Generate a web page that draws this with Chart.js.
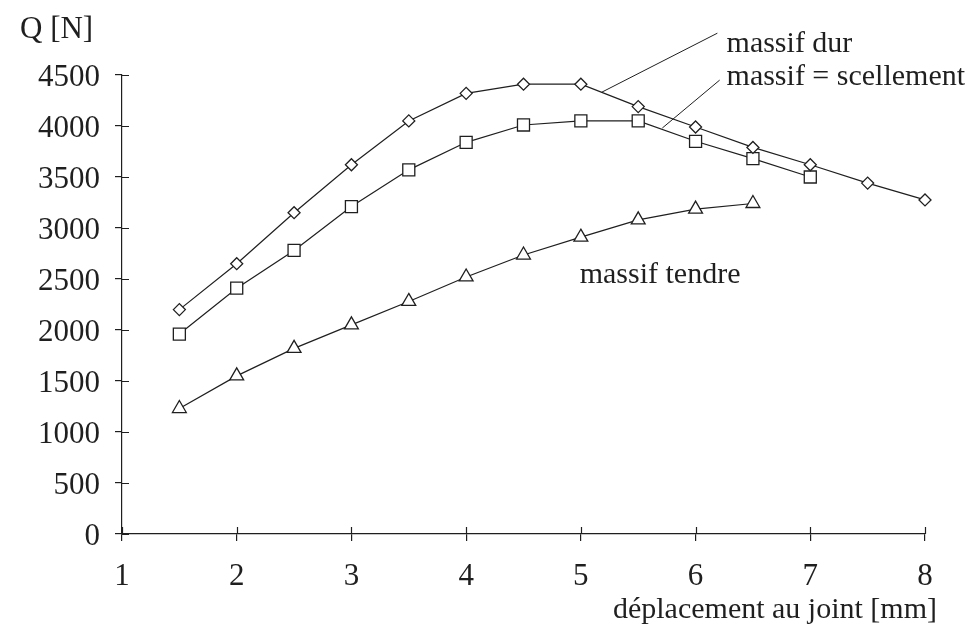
<!DOCTYPE html>
<html>
<head>
<meta charset="utf-8">
<script src="https://cdn.jsdelivr.net/npm/chart.js@4.4.1/dist/chart.umd.min.js"></script>
<style>
  html, body { margin: 0; padding: 0; background: #fff; }
  #graph { display: block; }
</style>
</head>
<body>
<canvas id="graph" width="972" height="628"></canvas>
<script>
// displacement at the joint [mm] and load Q [N]
const dispDur = [1.5, 2, 2.5, 3, 3.5, 4, 4.5, 5, 5.5, 6, 6.5, 7, 7.5, 8];
const qDur = [2200, 2650, 3150, 3620, 4050, 4320, 4410, 4410, 4190, 3990, 3790, 3620, 3440, 3275];

const dispScell = [1.5, 2, 2.5, 3, 3.5, 4, 4.5, 5, 5.5, 6, 6.5, 7];
const qScell = [1960, 2410, 2780, 3210, 3570, 3840, 4010, 4050, 4050, 3850, 3680, 3500];

const dispTendre = [1.5, 2, 2.5, 3, 3.5, 4, 4.5, 5, 5.5, 6, 6.5];
const qTendre = [1230, 1550, 1820, 2050, 2280, 2520, 2735, 2910, 3080, 3185, 3240];

const xTicks = [1, 2, 3, 4, 5, 6, 7, 8];
const yTicks = [0, 500, 1000, 1500, 2000, 2500, 3000, 3500, 4000, 4500];

const INK = "#1f1f1f";
const SERIF = "'Liberation Serif', 'DejaVu Serif', serif";

function toPoints(xs, ys) {
  return xs.map((x, i) => ({ x: x, y: ys[i] }));
}

function series(label, xs, ys, style, radius) {
  return {
    label: label,
    data: toPoints(xs, ys),
    borderColor: INK,
    borderWidth: 1.2,
    pointStyle: style,
    pointRadius: radius,
    pointBackgroundColor: "#fff",
    pointBorderColor: INK,
    pointBorderWidth: 1.3,
    tension: 0,
    fill: false,
    clip: false
  };
}

// callouts, positioned in data units
const leaders = [
  { from: [5.18, 4330], to: [6.19, 4910] },
  { from: [5.71, 3980], to: [6.21, 4450] }
];
const notes = [
  { text: "massif dur", at: [6.27, 4725] },
  { text: "massif = scellement", at: [6.27, 4402] },
  { text: "massif tendre", at: [4.99, 2461] }
];

const annotate = {
  id: "annotate",
  afterDraw(chart) {
    const { ctx, scales: { x, y } } = chart;
    ctx.save();

    // inner half of the crossing tick marks
    ctx.strokeStyle = INK;
    ctx.lineWidth = 1.2;
    ctx.beginPath();
    y.ticks.forEach((t) => {
      const py = Math.round(y.getPixelForValue(t.value)) + 0.5;
      ctx.moveTo(x.left, py);
      ctx.lineTo(x.left + 7, py);
    });
    x.ticks.forEach((t) => {
      const px = Math.round(x.getPixelForValue(t.value)) + 0.5;
      ctx.moveTo(px, y.bottom);
      ctx.lineTo(px, y.bottom - 7);
    });
    ctx.stroke();

    // leader lines
    ctx.lineWidth = 1;
    ctx.beginPath();
    leaders.forEach((l) => {
      ctx.moveTo(x.getPixelForValue(l.from[0]), y.getPixelForValue(l.from[1]));
      ctx.lineTo(x.getPixelForValue(l.to[0]), y.getPixelForValue(l.to[1]));
    });
    ctx.stroke();

    ctx.fillStyle = INK;
    ctx.textBaseline = "alphabetic";
    ctx.font = "30px " + SERIF;
    ctx.textAlign = "left";
    notes.forEach((n) => {
      ctx.fillText(n.text, x.getPixelForValue(n.at[0]), y.getPixelForValue(n.at[1]));
    });

    // axis titles
    ctx.font = "31px " + SERIF;
    ctx.fillText("Q [N]", 20, y.top - 37);
    ctx.font = "30px " + SERIF;
    ctx.textAlign = "right";
    ctx.fillText("déplacement au joint [mm]", x.right + 12, 618);

    ctx.restore();
  }
};

new Chart(document.getElementById("graph"), {
  type: "line",
  data: {
    datasets: [
      series("massif dur", dispDur, qDur, "rectRot", 6),
      series("massif = scellement", dispScell, qScell, "rect", 8.5),
      series("massif tendre", dispTendre, qTendre, "triangle", 8)
    ]
  },
  options: {
    responsive: false,
    animation: false,
    devicePixelRatio: 1,
    layout: { padding: { top: 75, right: 47, left: 0, bottom: 0 } },
    plugins: { legend: { display: false }, tooltip: { enabled: false } },
    scales: {
      x: {
        type: "linear",
        min: 1,
        max: 8,
        afterFit: (s) => { s.height = 94; },
        afterBuildTicks: (s) => { s.ticks = xTicks.map((v) => ({ value: v })); },
        border: { display: true, color: INK, width: 1.2 },
        grid: { drawOnChartArea: false, drawTicks: true, tickLength: 7, color: INK, lineWidth: 1.2 },
        ticks: { color: INK, font: { family: SERIF, size: 31 }, padding: 17, maxRotation: 0, callback: (v) => String(v) }
      },
      y: {
        min: 0,
        max: 4500,
        afterFit: (s) => { s.width = 122; },
        afterBuildTicks: (s) => { s.ticks = yTicks.map((v) => ({ value: v })); },
        border: { display: true, color: INK, width: 1.2 },
        grid: { drawOnChartArea: false, drawTicks: true, tickLength: 7, color: INK, lineWidth: 1.2 },
        ticks: { color: INK, font: { family: SERIF, size: 31 }, padding: 15, labelOffset: 3, callback: (v) => String(v) }
      }
    }
  },
  plugins: [annotate]
});
</script>
</body>
</html>
